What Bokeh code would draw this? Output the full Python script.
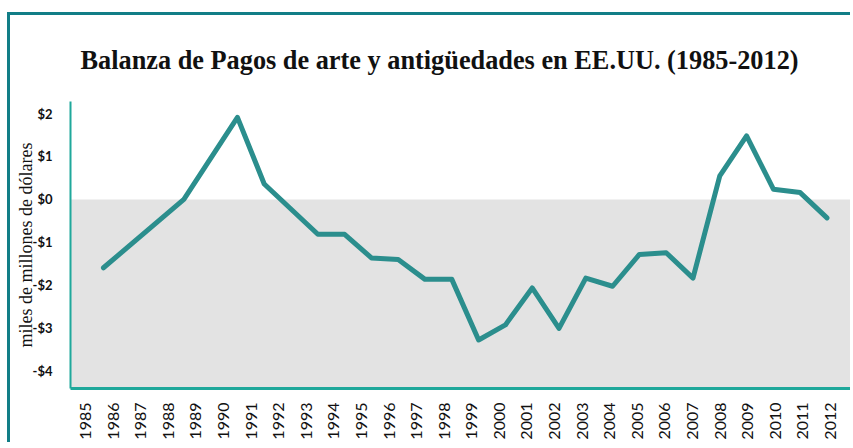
import math
from bokeh.plotting import figure
from bokeh.models import Range1d, FixedTicker, LinearAxis, BoxAnnotation
from bokeh.embed import file_html
from bokeh.resources import INLINE

# ---- data ----
years = [1985, 1988, 1990, 1991, 1993, 1994, 1995, 1996, 1997, 1998, 1999, 2000,
         2001, 2002, 2003, 2004, 2005, 2006, 2007, 2008, 2009, 2010, 2011, 2012]
balance = [-1.59, 0.0, 1.91, 0.36, -0.81, -0.81, -1.36, -1.40, -1.86, -1.86, -3.27, -2.92,
           -2.06, -3.00, -1.83, -2.02, -1.28, -1.24, -1.83, 0.55, 1.48, 0.24, 0.16, -0.43]
tick_years = list(range(1985, 2013))
y_ticks = [-4, -3, -2, -1, 0, 1, 2]
y_tick_labels = ["-$4", "-$3", "-$2", "-$1", "$0", "$1", "$2"]

FRAME = "#127e87"
AXIS = "#1fa89b"
LINE = "#2b8e8d"

p = figure(width=843, height=430, output_backend="svg", toolbar_location=None,
           x_range=Range1d(1983.77, 2012.99), y_range=Range1d(-4.40, 2.28),
           min_border_left=60, min_border_right=0, min_border_top=86, min_border_bottom=57,
           x_axis_type=None)
p.styles = {"border-left": f"3px solid {FRAME}", "border-top": f"3px solid {FRAME}",
            "margin-left": "7px", "margin-top": "12px"}

p.title.text = "Balanza de Pagos de arte y antigüedades en EE.UU. (1985-2012)"
p.title.text_font = "Liberation Serif"
p.title.text_font_style = "bold"
p.title.text_font_size = "26.3px"
p.title.align = "left"
p.title.offset = 10
p.title.standoff = 54
p.title.text_color = "#111111"

p.outline_line_color = None
p.xgrid.grid_line_color = None
p.ygrid.grid_line_color = None

# shaded negative region
p.add_layout(BoxAnnotation(top=0, fill_color="#e3e3e3", fill_alpha=1.0,
                           line_color=None, level="underlay"))

# x axis with its own label positions
p.extra_x_ranges = {"lab": Range1d(1984.456, 2012.835)}
xa = LinearAxis(x_range_name="lab", ticker=FixedTicker(ticks=tick_years),
                major_label_orientation=math.pi / 2)
xa.axis_line_color = AXIS
xa.axis_line_width = 3
xa.major_tick_line_color = None
xa.minor_tick_line_color = None
xa.major_label_text_font = "Lato"
xa.major_label_text_font_size = "16px"
xa.major_label_text_color = "#111111"
xa.major_label_standoff = 8
p.add_layout(xa, "below")

ya = p.yaxis[0]
ya.ticker = FixedTicker(ticks=y_ticks)
ya.major_label_overrides = {t: l for t, l in zip(y_ticks, y_tick_labels)}
ya.axis_line_color = AXIS
ya.axis_line_width = 2
ya.major_tick_line_color = None
ya.minor_tick_line_color = None
ya.major_label_text_font = "Lato"
ya.major_label_text_font_style = "bold"
ya.major_label_text_font_size = "13px"
ya.major_label_text_color = "#111111"
ya.major_label_standoff = 12
ya.axis_label = "miles de millones de dólares"
ya.axis_label_text_font = "Liberation Serif"
ya.axis_label_text_font_style = "normal"
ya.axis_label_text_font_size = "18px"
ya.axis_label_text_color = "#111111"
ya.axis_label_standoff = -6

p.line(years, balance, line_color=LINE, line_width=5, line_join="round", line_cap="round")

open("out.html", "w").write(file_html(p, INLINE))
